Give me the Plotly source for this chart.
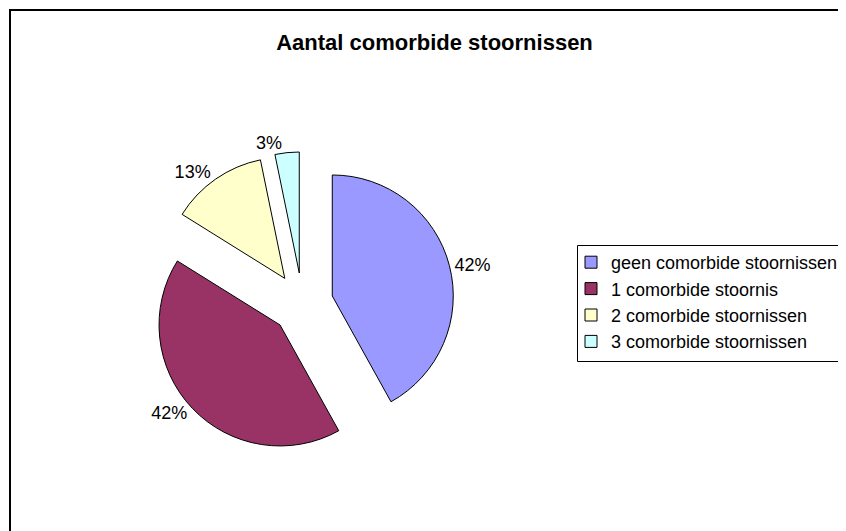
import plotly.graph_objects as go

categories = ["geen comorbide stoornissen", "1 comorbide stoornis",
              "2 comorbide stoornissen", "3 comorbide stoornissen"]
counts = [13, 13, 4, 1]
colors = ["#9999FF", "#993366", "#FFFFCC", "#CCFFFF"]
title_text = "Aantal comorbide stoornissen"

# the page body has an 8px margin, so the figure fills the rest of the window
OFF = 8
W, H = 846 - OFF, 531 - OFF
FONT = "Liberation Sans, Arial, Helvetica, sans-serif"


def px(x):
    return (x - OFF) / W


def py(y):
    return 1 - (y - OFF) / H


# pie box (window pixels)
cx, cy, box = 302.4, 303.7, 303.7

fig = go.Figure(go.Pie(
    labels=categories,
    values=counts,
    sort=False,
    direction="clockwise",
    rotation=0,
    pull=[0.255] * 4,
    marker=dict(colors=colors, line=dict(color="black", width=1)),
    textposition="outside",
    texttemplate="%{percent:.0%}",
    textfont=dict(family=FONT, size=18, color="black"),
    domain=dict(x=[px(cx - box / 2), px(cx + box / 2)],
                y=[py(cy + box / 2), py(cy - box / 2)]),
    hoverinfo="label+percent",
))

fig.update_layout(
    width=W, height=H,
    margin=dict(l=0, r=0, t=0, b=0, autoexpand=False),
    paper_bgcolor="white",
    plot_bgcolor="white",
    font=dict(family=FONT, color="black"),
    title=dict(text="<b>" + title_text + "</b>", x=px(434.5), y=py(42),
               xanchor="center", yanchor="middle",
               font=dict(family=FONT, size=22, color="black")),
    legend=dict(x=px(571), y=py(244), xanchor="left", yanchor="top",
                borderwidth=0, bgcolor="rgba(0,0,0,0)",
                font=dict(family=FONT, size=18, color="black"),
                itemwidth=30),
    shapes=[
        # chart area border (runs off the right and bottom edges)
        dict(type="rect", xref="paper", yref="paper",
             x0=px(10), x1=px(870), y0=py(560), y1=py(10),
             line=dict(color="black", width=2), fillcolor="rgba(0,0,0,0)",
             layer="above"),
        # legend box
        dict(type="rect", xref="paper", yref="paper",
             x0=px(577.5), x1=px(845.5), y0=py(361.5), y1=py(245.5),
             line=dict(color="black", width=1), fillcolor="rgba(0,0,0,0)",
             layer="above"),
    ],
)

fig.write_html("out.html")
